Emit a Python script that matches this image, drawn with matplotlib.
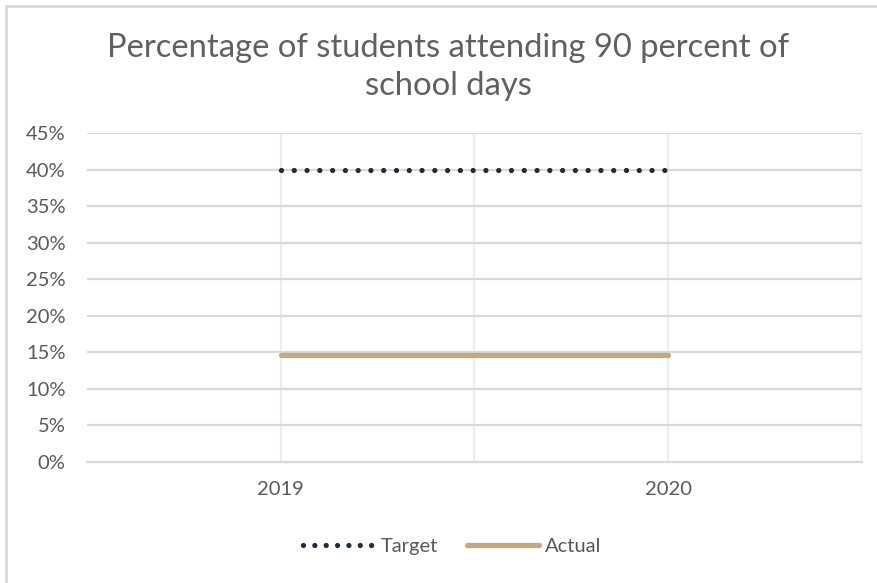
import matplotlib
matplotlib.use("Agg")
import matplotlib.pyplot as plt
from matplotlib.patches import Rectangle
from matplotlib.lines import Line2D
import numpy as np

years = ["2019", "2020"]
target = [0.40, 0.40]
actual = [0.146, 0.146]
yticks = [0, 0.05, 0.10, 0.15, 0.20, 0.25, 0.30, 0.35, 0.40, 0.45]
title_lines = ["Percentage of students attending 90 percent of", "school days"]

W, H = 878, 583
fig = plt.figure(figsize=(W / 100, H / 100), dpi=100)
fig.patch.set_facecolor("white")

# chart area border (left/top visible)
fig.patches.append(Rectangle((6 / W, -0.1), 1.2, 1 - 6 / H + 0.1, transform=fig.transFigure,
                             fill=False, edgecolor="#D9D9D9", linewidth=2.0))

ax = fig.add_axes([87 / W, 1 - 462 / H, (862 - 87) / W, (462 - 133) / H])
x = np.arange(len(years))

grid_h = "#D9D9D9"
grid_v = "#EDEDED"
for yv in yticks[1:]:
    ax.axhline(yv, color=grid_h, lw=1.6, zorder=1)
for xv in [0, 0.5, 1, 1.5]:
    ax.axvline(xv, color=grid_v, lw=1.6, zorder=0.5)

dot_lw = 3.8
dot_style = (0, (0.001, 2.42))
ax.plot(x, target, color="#232B38", lw=dot_lw, linestyle=dot_style,
        dash_capstyle="round", zorder=3, label="Target")
ax.plot(x, actual, color="#C2A883", lw=3.8, solid_capstyle="round", zorder=3, label="Actual")

ax.set_xlim(-0.5, 1.5)
ax.set_ylim(0, 0.45)
ax.set_yticks(yticks)
ax.set_yticklabels([f"{int(round(v * 100))}%" for v in yticks])
ax.set_xticks(x)
ax.set_xticklabels(years)

for s in ["top", "right", "left"]:
    ax.spines[s].set_visible(False)
ax.spines["bottom"].set_color("#D9D9D9")
ax.spines["bottom"].set_linewidth(1.6)
ax.tick_params(axis="both", length=0, labelsize=14.5, labelcolor="#595959")
ax.tick_params(axis="y", pad=15.5)
ax.tick_params(axis="x", pad=14)
for lab in ax.get_xticklabels() + ax.get_yticklabels():
    lab.set_fontfamily("Lato")

fig.text(448 / W, 1 - 57 / H, title_lines[0], ha="center", va="baseline", fontsize=23.6,
         color="#606060", family="Lato")
fig.text(448 / W, 1 - 95 / H, title_lines[1], ha="center", va="baseline", fontsize=23.6,
         color="#606060", family="Lato")

handles = [Line2D([0], [0], color="#232B38", lw=dot_lw, linestyle=(0, (0.001, 2.15)),
                  dash_capstyle="round"),
           Line2D([0], [0], color="#C2A883", lw=3.8, solid_capstyle="round")]
leg = fig.legend(handles, ["Target", "Actual"], loc="center", bbox_to_anchor=(452 / W, 1 - 546 / H),
                 ncol=2, frameon=False, handlelength=3.6, handletextpad=0.3, columnspacing=1.4,
                 prop={"family": "Lato", "size": 14.5})
for t in leg.get_texts():
    t.set_color("#595959")

fig.savefig("out.png", dpi=100, facecolor="white")
